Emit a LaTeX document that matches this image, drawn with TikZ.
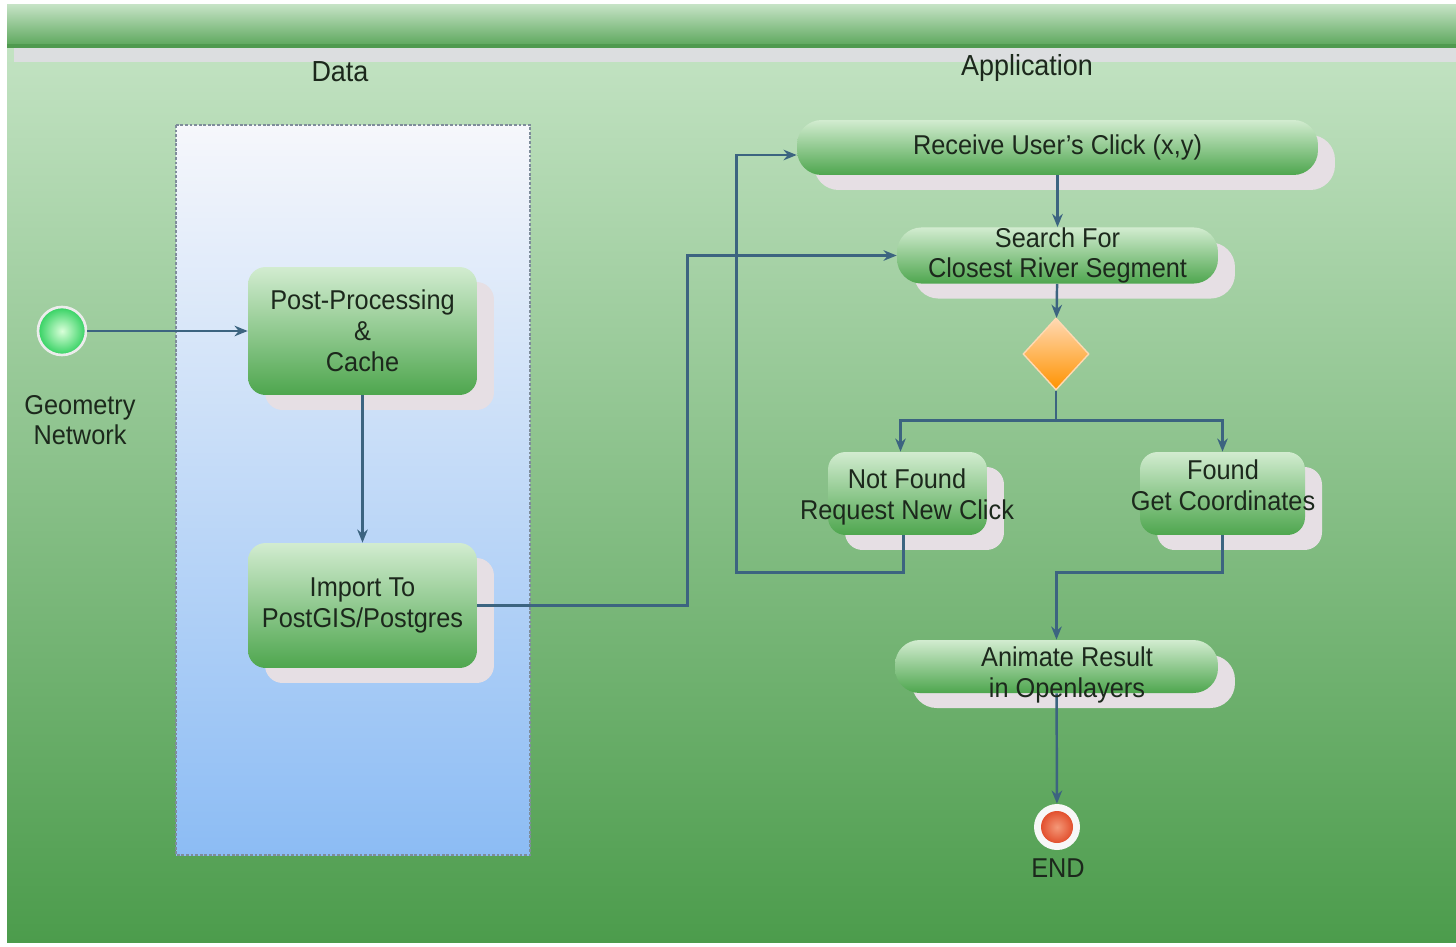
\documentclass[tikz,border=0pt]{standalone}
\usepackage{fontspec}
\setmainfont{Liberation Sans}[FakeStretch=0.93]
\usetikzlibrary{arrows.meta, positioning, shapes.geometric, shadows}

\definecolor{bgtop}{HTML}{C8E6C8}
\definecolor{bgmid}{HTML}{8CC88C}
\definecolor{bgbot}{HTML}{4C9C4C}
\definecolor{bandtop}{HTML}{C4E2C4}
\definecolor{bandbot}{HTML}{5EA85E}
\definecolor{bandline}{HTML}{4F9A4F}
\definecolor{stripc}{HTML}{DCDEE0}
\definecolor{lanetop}{HTML}{F6F7FB}
\definecolor{lanebot}{HTML}{8CBCF4}
\definecolor{laneedge}{HTML}{7E8C9A}
\definecolor{boxtop}{HTML}{D2ECD0}
\definecolor{boxbot}{HTML}{4EA64E}
\definecolor{shadowc}{HTML}{E6DFE4}
\definecolor{linec}{HTML}{3C6480}
\definecolor{textc}{HTML}{1C281C}
\definecolor{endin}{HTML}{F49878}
\definecolor{endout}{HTML}{E2502E}

\tikzset{
  actbox/.style={rounded corners=10pt, top color=boxtop, bottom color=boxbot,
    general shadow={fill=shadowc, shadow xshift=0.34cm, shadow yshift=-0.3cm},
    align=center, inner sep=0pt, text=textc},
  pillbox/.style={actbox, rounded corners=14pt},
  boxtxt/.style={text=textc, align=center, inner sep=0pt},
  flow/.style={draw=linec, line width=1.4pt, -{Stealth[length=7.5pt,width=6pt]}},
  lbl/.style={text=textc, align=center, font=\fontsize{15.5pt}{17.5pt}\selectfont},
}

\begin{document}
\begin{tikzpicture}[x=0.02cm, y=-0.02cm, font=\fontsize{15.5pt}{17.5pt}\selectfont]
  \useasboundingbox (0,0) rectangle (1456,946);

  % Background and lane header
  \fill[white] (0,0) rectangle (1456,946);
  \shade[top color=bgtop, middle color=bgmid, bottom color=bgbot] (7,5) rectangle (1456,942);
  \shade[top color=bandtop, bottom color=bandbot] (7,5) rectangle (1456,45);
  \fill[bandline] (7,44) rectangle (1456,48);
  \fill[stripc] (14,48) rectangle (1456,62);

  \node[lbl, font=\fontsize{16.5pt}{18pt}\selectfont] (datatitle) at (340,72) {Data};
  \node[lbl, font=\fontsize{16.5pt}{18pt}\selectfont] (apptitle) at (1027,68) {Application};

  % Data lane
  \shade[top color=lanetop, bottom color=lanebot] (176,125) rectangle (530,855);
  \draw[laneedge, densely dotted, line width=1.6pt] (176,125) rectangle (530,855);

  % Start
  \node[circle, minimum size=0.96cm, inner color=green!15!white, outer color=green!55!teal!80!white,
        draw=white!85!gray, line width=1.5pt] (start) at (62,331) {};
  \node[lbl] (geom) at (80,420) {Geometry\\Network};

  % Data steps
  \node[actbox, minimum width=4.58cm, minimum height=2.56cm] (post) at (362.5,331)
       {Post-Processing\\\&\\Cache};
  \node[actbox, minimum width=4.58cm, minimum height=2.5cm] (import) at (362.5,605.5)
       {Import To\\PostGIS/Postgres};

  % Application steps
  \node[pillbox, minimum width=10.42cm, minimum height=1.1cm] (receive) at (1057.5,147.5)
       {Receive User's Click (x,y)};
  \node[pillbox, minimum width=6.42cm, minimum height=1.1cm] (search) at (1057.5,255.5)
       {Search For\\Closest River Segment};
  \node[diamond, minimum width=1.32cm, minimum height=1.44cm, inner sep=0pt,
        top color=orange!30!white, bottom color=orange!85!yellow, draw=white!70!orange,
        line width=0.8pt] (decide) at (1056,354) {};
  \node[actbox, minimum width=3.18cm, minimum height=1.66cm] (notfound) at (907.5,493.5) {};
  \node[actbox, minimum width=3.3cm, minimum height=1.66cm] (found) at (1222.5,493.5) {};
  \node[pillbox, minimum width=6.46cm, minimum height=1.06cm] (animate) at (1056.5,666.5) {};

  % End
  \node[circle, minimum size=0.92cm, fill=white!94!gray] (endring) at (1057,827) {};
  \node[circle, minimum size=0.64cm, inner color=endin, outer color=endout] (end) at (1057,827) {};
  \node[lbl] (endtxt) at (1058,868) {END};

  % Connectors
  \draw[flow] (start) -- (post);
  \draw[flow] (post) -- (import);
  \draw[flow] (import.east) -- ++(210,0) |- (search.west);
  \draw[flow] (receive) -- (search);
  \draw[flow] (search) -- (decide);
  \draw[flow] (decide.south) -- ++(0,30) -| ([xshift=-0.14cm]notfound.north);
  \draw[flow] (decide.south) -- ++(0,30) -| (found.north);
  \draw[flow] ([xshift=-0.08cm]notfound.south) -- ++(0,37) -- ++(-167,0) |- ([yshift=-0.15cm]receive.west);
  \draw[flow] (found.south) -- ++(0,37) -| (animate.north);
  \draw[flow] (animate) -- (endring);

  % Texts over the lines
  \node[boxtxt] (notfoundtxt) at (907,497) {Not Found\\Request New Click};
  \node[boxtxt] (foundtxt) at (1223,485) {Found\\Get Coordinates};
  \node[boxtxt] (animatetxt) at (1067,675) {Animate Result\\in Openlayers};
\end{tikzpicture}
\end{document}
